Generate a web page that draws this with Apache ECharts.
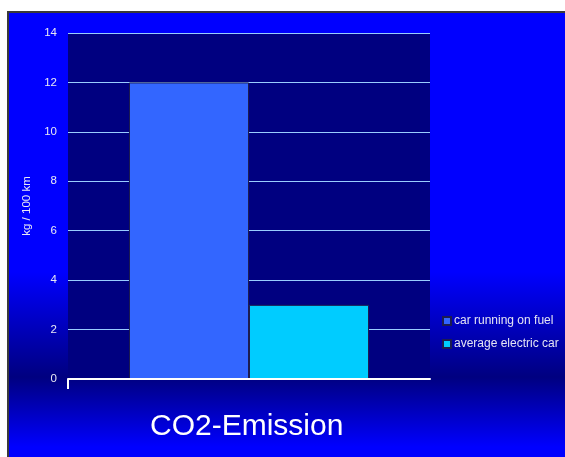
<!DOCTYPE html>
<html>
<head>
<meta charset="utf-8">
<script src="https://cdn.jsdelivr.net/npm/echarts@6/dist/echarts.min.js"></script>
<style>
html,body{margin:0;padding:0;background:#ffffff;overflow:hidden;}
#chart{width:565px;height:457px;}
</style>
</head>
<body>
<div id="chart"></div>
<script>
// ---- data ----
var categories = ['CO2'];
var seriesNames = ['car running on fuel', 'average electric car'];
var fuelValues = [12];
var electricValues = [3];
var yTicks = { min: 0, max: 14, interval: 2 };
var titleText = 'CO2-Emission';
var yAxisName = 'kg / 100 km';

// ---- layout constants ----
var GRID_LEFT = 68, GRID_RIGHT = 135, GRID_TOP = 33, GRID_BOTTOM = 78;
var W = 565, H = 457;

var chart = echarts.init(document.getElementById('chart'), null, { renderer: 'canvas' });

var option = {
  backgroundColor: 'transparent',
  animation: false,
  textStyle: { fontFamily: 'Liberation Sans, Arial, sans-serif' },
  graphic: [
    {
      type: 'rect',
      z: -10,
      silent: true,
      shape: { x: 8, y: 12, width: W - 8, height: H - 12 },
      style: {
        fill: new echarts.graphic.LinearGradient(0, 12, 0, 512, [
          { offset: 0, color: '#0000FF' },
          { offset: 0.52, color: '#0000FF' },
          { offset: 0.73, color: '#000080' },
          { offset: 0.87, color: '#0000FF' },
          { offset: 1, color: '#0000FF' }
        ], true)
      }
    },
    {
      type: 'polyline',
      z: -9,
      silent: true,
      shape: { points: [[8, H + 5], [8, 12], [W + 5, 12]] },
      style: { stroke: '#3a3a3a', lineWidth: 2, fill: null }
    },
    {
      type: 'line',
      z: 10,
      silent: true,
      shape: { x1: GRID_LEFT, y1: H - GRID_BOTTOM, x2: GRID_LEFT, y2: H - GRID_BOTTOM + 10 },
      style: { stroke: '#ffffff', lineWidth: 2 }
    }
  ],
  title: {
    text: titleText,
    left: 150,
    top: 412,
    padding: 0,
    textStyle: {
      color: '#ffffff',
      fontSize: 30,
      fontWeight: 'normal',
      fontFamily: 'Liberation Sans, Arial, sans-serif'
    }
  },
  legend: {
    orient: 'vertical',
    left: 437,
    top: 310,
    itemWidth: 8,
    itemHeight: 8,
    itemGap: 11,
    icon: 'rect',
    data: seriesNames,
    textStyle: {
      color: '#E4E4F4',
      fontSize: 12,
      padding: [0, 0, 0, -2],
      fontFamily: 'Liberation Sans, Arial, sans-serif'
    }
  },
  grid: {
    left: GRID_LEFT,
    right: GRID_RIGHT,
    top: GRID_TOP,
    bottom: GRID_BOTTOM,
    show: true,
    backgroundColor: '#000080',
    borderWidth: 0
  },
  xAxis: {
    type: 'category',
    data: categories,
    axisLine: { show: true, lineStyle: { color: '#ffffff', width: 2 } },
    axisTick: { show: false },
    axisLabel: { show: false },
    splitLine: { show: false },
    z: 5
  },
  yAxis: {
    type: 'value',
    min: yTicks.min,
    max: yTicks.max,
    interval: yTicks.interval,
    name: yAxisName,
    nameLocation: 'middle',
    nameRotate: 90,
    nameGap: 29,
    nameTextStyle: { color: '#E8E8F4', fontSize: 11.5, fontFamily: 'Liberation Sans, Arial, sans-serif' },
    axisLine: { show: false },
    axisTick: { show: false },
    axisLabel: { color: '#E8E8F4', fontSize: 11.5, margin: 11, fontFamily: 'Liberation Sans, Arial, sans-serif' },
    splitLine: { show: true, lineStyle: { color: '#99CCFF', width: 1 } }
  },
  series: [
    {
      name: seriesNames[0],
      type: 'bar',
      data: fuelValues,
      barGap: '0%',
      barCategoryGap: '33.7%',
      itemStyle: { color: '#3366FF', borderColor: '#1c1c50', borderWidth: 1 }
    },
    {
      name: seriesNames[1],
      type: 'bar',
      data: electricValues,
      itemStyle: { color: '#00CCFF', borderColor: '#1c1c50', borderWidth: 1 }
    }
  ]
};

chart.setOption(option);
</script>
</body>
</html>
